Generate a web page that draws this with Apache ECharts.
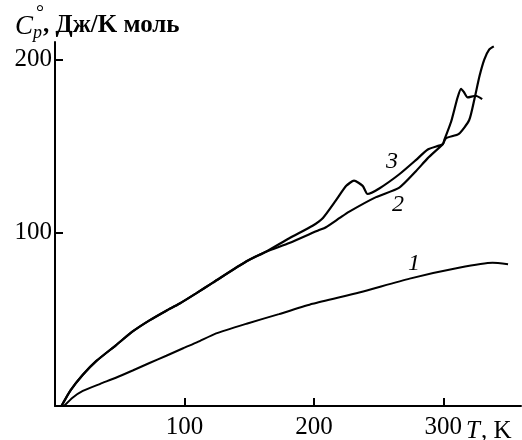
<!DOCTYPE html>
<html>
<head>
<meta charset="utf-8">
<script src="https://cdn.jsdelivr.net/npm/echarts@6/dist/echarts.min.js"></script>
<style>
  html, body { margin: 0; padding: 0; background: #fff; }
  #chart { width: 522px; height: 440px; }
</style>
</head>
<body>
<div id="chart"></div>
<script>
// кривая 1
const curve1 = [
  [7, 0], [13.8, 4.9], [21.5, 8.7], [35, 12.8], [47, 16.3], [60, 20.5], [73, 24.8],
  [86, 29], [99, 33.3], [110, 36.8], [124.5, 41.9], [148, 47.5], [173, 53], [199, 59],
  [235, 65.5], [274, 73.5], [312, 79.7], [338, 82.6], [350, 81.8]
]
// общий участок кривых 2 и 3
const commonPart = [
  [5, 0], [12, 9], [21.5, 18], [32, 26], [47, 35], [60, 43], [73, 49.4], [86, 55],
  [96, 59], [109, 65], [122, 71.2], [148, 83.5], [163, 89]
]
// кривая 2
const curve2Tail = [
  [181, 94], [204, 101.5], [209, 103], [220, 108.5], [227, 112], [248, 120.5], [266, 126],
  [279, 135.6], [288, 143], [299.5, 151], [302, 154.5], [312, 157], [320, 165], [324, 177],
  [328, 190.5], [331.7, 200], [335.5, 205.7], [339, 207.5]
]
// кривая 3
const curve3Tail = [
  [181, 96.8], [199, 104], [207, 108.5], [217, 118.6], [225, 127], [231, 130], [237.7, 127],
  [241.5, 122.3], [250.5, 125.5], [266, 133.7], [279, 142], [288, 148], [299.5, 151],
  [300.8, 153.6], [306, 164], [311, 178], [313.7, 183], [316, 181], [318.8, 178],
  [325, 179], [330, 177]
]
const xTicks = [100, 200, 300]
const yTicks = [100, 200]

const serif = 'Liberation Serif'
const chart = echarts.init(document.getElementById('chart'))

function line(data, width) {
  return {
    type: 'line',
    data: data,
    symbol: 'none',
    smooth: 0.2,
    lineStyle: { color: '#000', width: width },
    silent: true
  }
}

chart.setOption({
  animation: false,
  grid: { left: 55, right: 1, top: 42, bottom: 28 },
  xAxis: {
    type: 'value',
    min: 0,
    max: 360,
    axisLine: { lineStyle: { color: '#000', width: 2 } },
    axisTick: { inside: true, length: 8, customValues: xTicks, lineStyle: { color: '#000', width: 2 } },
    axisLabel: {
      customValues: xTicks,
      margin: 9,
      color: '#000',
      fontFamily: serif,
      fontSize: 25
    },
    splitLine: { show: false }
  },
  yAxis: {
    type: 'value',
    min: 0,
    max: 210,
    axisLine: { show: true, lineStyle: { color: '#000', width: 2 } },
    axisTick: { show: true, inside: true, length: 8, customValues: yTicks, lineStyle: { color: '#000', width: 2 } },
    axisLabel: {
      customValues: yTicks,
      margin: 3,
      color: '#000',
      fontFamily: serif,
      fontSize: 25
    },
    splitLine: { show: false }
  },
  series: [
    line(curve1, 2),
    line(commonPart.concat(curve2Tail), 2.2),
    line(commonPart.concat(curve3Tail), 2.2)
  ],
  graphic: [
    { type: 'text', left: 15, top: 13, style: { text: 'C', font: 'italic 27px ' + serif, fill: '#000' } },
    { type: 'text', left: 36, top: 4, style: { text: '°', font: '20px ' + serif, fill: '#000' } },
    { type: 'text', left: 33, top: 24, style: { text: 'p', font: 'italic 18px ' + serif, fill: '#000' } },
    { type: 'text', left: 43, top: 13, style: { text: ', Дж/K моль', font: 'bold 25px ' + serif, fill: '#000' } },
    { type: 'text', left: 466, top: 419, style: { text: 'T', font: 'italic 25px ' + serif, fill: '#000' } },
    { type: 'text', left: 481, top: 419, style: { text: ', K', font: '25px ' + serif, fill: '#000' } },
    { type: 'text', left: 408, top: 252, style: { text: '1', font: 'italic 24px ' + serif, fill: '#000' } },
    { type: 'text', left: 392, top: 193, style: { text: '2', font: 'italic 24px ' + serif, fill: '#000' } },
    { type: 'text', left: 386, top: 150, style: { text: '3', font: 'italic 24px ' + serif, fill: '#000' } }
  ]
})
</script>
</body>
</html>
